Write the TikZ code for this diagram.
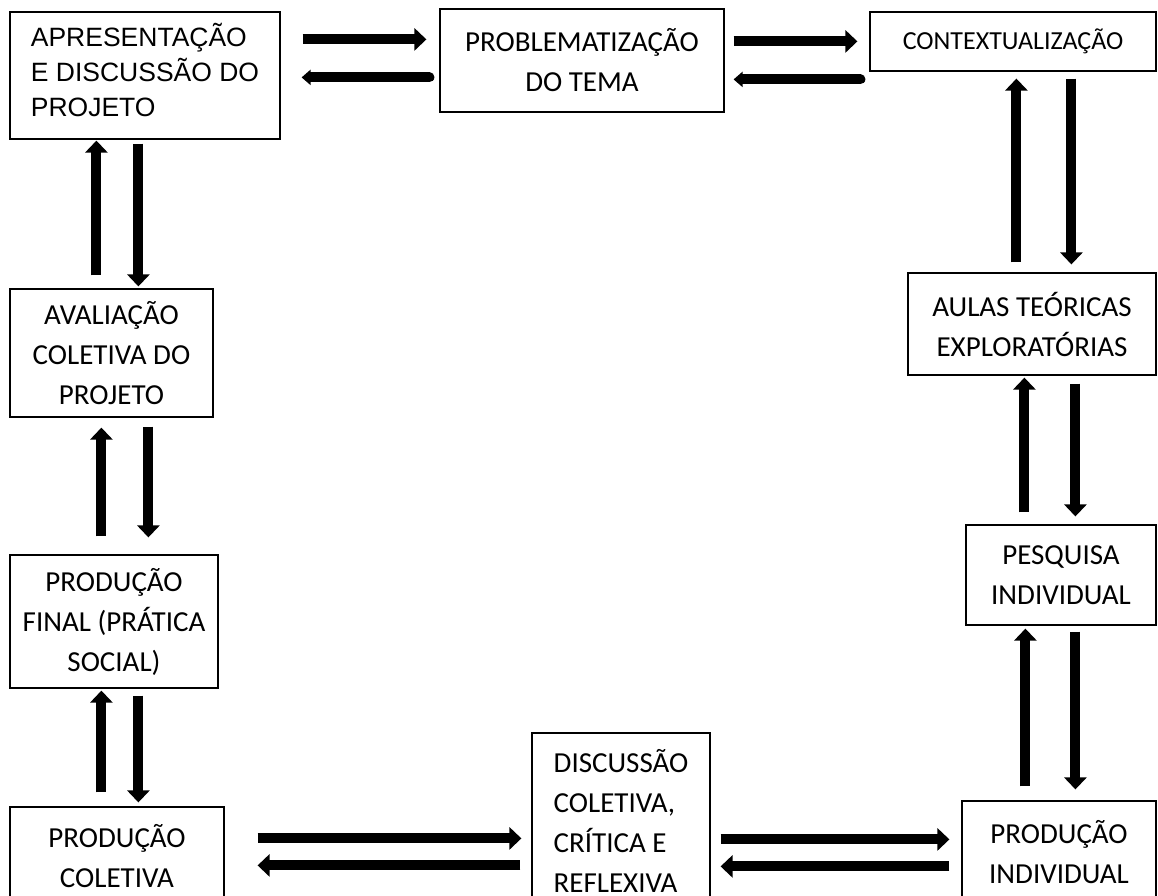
\documentclass[tikz,border=0pt]{standalone}
\usepackage{fontspec}
\setmainfont{Carlito}
\newfontfamily\arialf{Liberation Sans}
\usetikzlibrary{arrows.meta,calc}
\tikzset{
  box/.style={draw=black, line width=1.2pt, inner sep=0pt, align=center,
    font=\fontsize{29}{40}\selectfont},
  fwd/.style={line width=10pt, -{Triangle[width=22pt,length=12pt]}},
  bk/.style={line width=10pt, line cap=round, -{Triangle[width=15pt,length=9pt]}}
}
\begin{document}
\begin{tikzpicture}[x=1pt,y=-1pt]
\useasboundingbox (0,0) rectangle (1158,895);
\clip (0,0) rectangle (1158,895);
% boxes
\node[box, minimum width=270pt, minimum height=127pt, align=left, text depth=11pt,
  font=\arialf\fontsize{26.5}{35}\selectfont] (apres) at (145,75.5)
  {APRESENTAÇÃO\\E DISCUSSÃO DO\\PROJETO};
\node[box, minimum width=284pt, minimum height=103pt] (prob) at (582,60.5)
  {PROBLEMATIZAÇÃO\\DO TEMA};
\node[box, minimum width=286pt, minimum height=59pt,
  font=\fontsize{26}{36}\selectfont] (ctx) at (1013,41.5) {CONTEXTUALIZAÇÃO};
\node[box, minimum width=248pt, minimum height=102pt] (aulas) at (1032,324)
  {AULAS TEÓRICAS\\EXPLORATÓRIAS};
\node[box, minimum width=190pt, minimum height=100pt] (pesq) at (1061,575)
  {PESQUISA\\INDIVIDUAL};
\node[box, minimum width=194pt, minimum height=103pt] (pind) at (1059,852.5)
  {PRODUÇÃO\\INDIVIDUAL};
\node[box, minimum width=178pt, minimum height=175pt, align=left] (disc) at (621,820.5)
  {DISCUSSÃO\\COLETIVA,\\CRÍTICA E\\REFLEXIVA};
\node[box, minimum width=214pt, minimum height=99pt] (pcol) at (117,856.5)
  {PRODUÇÃO\\COLETIVA};
\node[box, minimum width=208pt, minimum height=133pt] (pfin) at (114,621.5)
  {PRODUÇÃO\\FINAL (PRÁTICA\\SOCIAL)};
\node[box, minimum width=203pt, minimum height=128pt] (aval) at (111.5,353)
  {AVALIAÇÃO\\COLETIVA DO\\PROJETO};
% top row
\draw[fwd] ($(apres.north east)+(22,28)$) -- ($(prob.north west)+(-13,31)$);
\draw[bk]  ($(prob.north west)+(-10,69)$) -- ($(apres.north east)+(21,66)$);
\draw[fwd] ($(prob.north east)+(9,33)$) -- ($(ctx.north west)+(-12,30)$);
\draw[bk]  ($(ctx.north west)+(-9,68)$) -- ($(prob.north east)+(9,71)$);
% right column
\draw[fwd] ($(aulas.north west)+(109,-10)$) -- ($(ctx.south west)+(147,7)$);
\draw[fwd] ($(ctx.south west)+(202,7)$) -- ($(aulas.north west)+(164,-8)$);
\draw[fwd] ($(pesq.north west)+(59,-12)$) -- ($(aulas.south west)+(117,2)$);
\draw[fwd] ($(aulas.south west)+(168,8)$) -- ($(pesq.north west)+(110,-8)$);
\draw[fwd] ($(pind.north west)+(64,-14)$) -- ($(pesq.south west)+(60,3)$);
\draw[fwd] ($(pesq.south west)+(110,6)$) -- ($(pind.north west)+(114,-11)$);
% bottom row
\draw[fwd] ($(pcol.north east)+(33,32)$) -- ($(disc.north west)+(-10,106)$);
\draw[fwd] ($(disc.north west)+(-11,133)$) -- ($(pcol.north east)+(33,59)$);
\draw[fwd] ($(disc.north east)+(10,107)$) -- ($(pind.north west)+(-12,39)$);
\draw[fwd] ($(pind.north west)+(-12,66)$) -- ($(disc.north east)+(10,134)$);
% left column
\draw[fwd] ($(aval.north west)+(87,-13)$) -- ($(apres.south west)+(87,1)$);
\draw[fwd] ($(apres.south west)+(129,4)$) -- ($(aval.north west)+(129,-2)$);
\draw[fwd] ($(pfin.north west)+(92,-18)$) -- ($(aval.south west)+(92,10)$);
\draw[fwd] ($(aval.south west)+(139,9)$) -- ($(pfin.north west)+(139,-17)$);
\draw[fwd] ($(pcol.north west)+(92,-14)$) -- ($(pfin.south west)+(92,2)$);
\draw[fwd] ($(pfin.south west)+(129,7)$) -- ($(pcol.north west)+(129,-4)$);
\end{tikzpicture}
\end{document}
